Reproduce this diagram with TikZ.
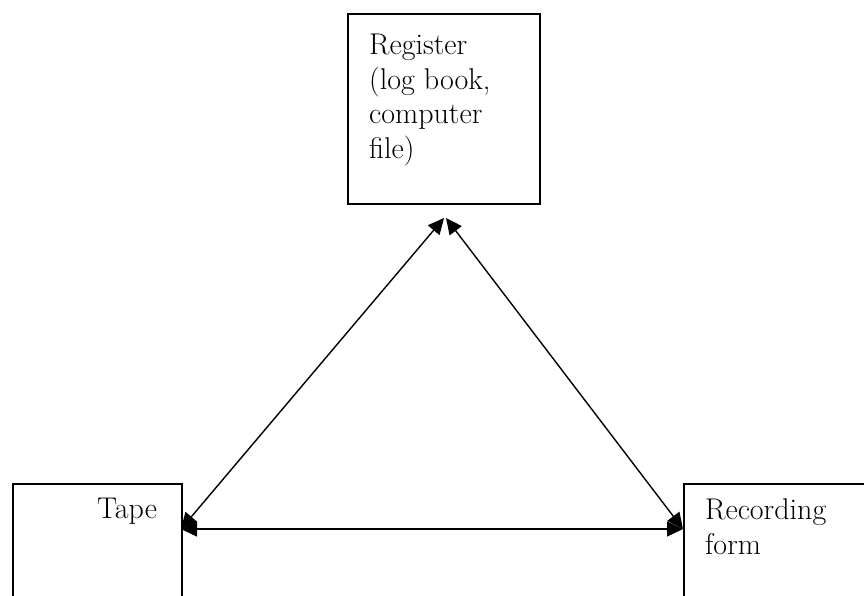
\documentclass[tikz,border=0pt]{standalone}
\usetikzlibrary{arrows.meta}
\begin{document}
\begin{tikzpicture}[x=1pt,y=-1pt,
  box/.style={draw=black, line width=1.6pt, rectangle, inner sep=0pt, anchor=north west},
  lbl/.style={anchor=base west, align=left, inner sep=0pt, font=\fontsize{30}{34.5}\selectfont},
  conn/.style={line width=1.4pt, {Triangle[length=16pt,width=15pt]}-{Triangle[length=16pt,width=15pt]}}]
\useasboundingbox (0,0) rectangle (864,596);
\clip (0,0) rectangle (864,596);
% boxes
\node[box, minimum width=192pt, minimum height=190pt] (reg) at (347,13) {};
\node[box, minimum width=169pt, minimum height=140pt] (tape) at (12,483) {};
\node[box, minimum width=200pt, minimum height=140pt] (rec) at (683,483) {};
% texts (base anchor = baseline of last line)
\node[lbl] (regtxt) at (369,158.5) {Register\\(log book,\\computer\\file)};
\node[lbl] (tapetxt) at (97,518) {Tape};
\node[lbl] (rectxt) at (705,554) {Recording\\form};
% connector ends
\coordinate (tapeE) at (181,529);
\coordinate (recW) at (683,529);
\coordinate (apexL) at (444,218);
\coordinate (apexR) at (446,218);
% connectors
\draw[conn] (tapeE) -- (apexL);
\draw[conn] (recW) -- (apexR);
\draw[conn] (tapeE) -- (recW);
\end{tikzpicture}
\end{document}
